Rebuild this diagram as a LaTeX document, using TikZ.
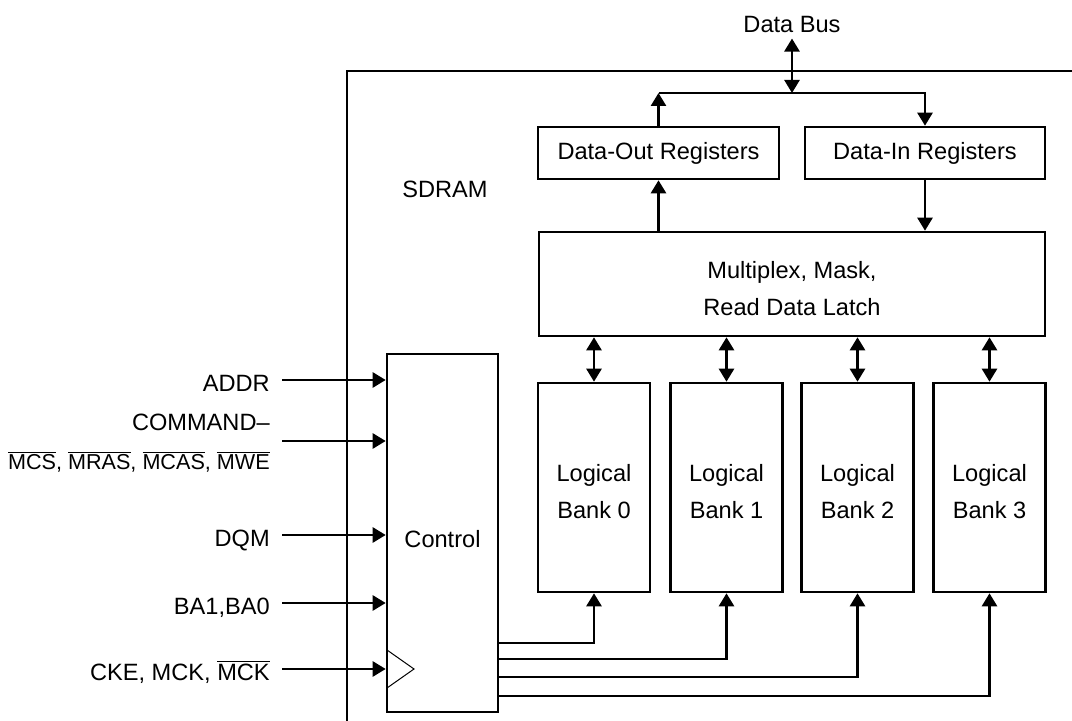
\documentclass[tikz,border=0pt]{standalone}
\usepackage{fontspec}
\setmainfont{Liberation Sans}
\usetikzlibrary{arrows.meta,calc}
\newcommand\ovl[1]{$\overline{\mbox{#1}}$}
\begin{document}
\begin{tikzpicture}[x=0.5pt,y=-0.5pt,
  line width=1.3pt,
  font=\fontsize{11.8}{18.5}\selectfont,
  box/.style={draw, rectangle, inner sep=0pt, align=center},
  txt/.style={label={[align=center, yshift=#1]center:}},
  bankbox/.style={box, minimum width=56pt, minimum height=104.5pt},
  lbl/.style={inner sep=0pt, anchor=base east},
  >={Triangle[length=6.5pt,width=7.5pt]}
]
\useasboundingbox (0,0) rectangle (1072,721);

% outer SDRAM boundary
\draw (1080,71) -- (347,71) -- (347,730);
\node[inner sep=0pt] (sdram) at (445,189) {SDRAM};

% boxes
\node[box, minimum width=120.5pt, minimum height=26pt] (dout) at (658.5,153) {Data-Out Registers};
\node[box, minimum width=120pt, minimum height=26pt] (din) at (925,153) {Data-In Registers};
\node[box, minimum width=253pt, minimum height=52pt,
  label={[align=center, yshift=-2.2pt]center:Multiplex, Mask,\\Read Data Latch}] (mux) at (792,284) {};
\foreach \i/\x in {0/594,1/726.5,2/857.5,3/989.5}
  \node[bankbox, label={[align=center, yshift=-2pt]center:Logical\\Bank \i}] (bank\i) at (\x,487.5) {};
\node[box, minimum width=55.5pt, minimum height=179pt,
  label={[yshift=-3pt]center:Control}] (ctrl) at (442.5,533) {};

% data bus
\node[inner sep=0pt] (db) at (792,25) {Data Bus};
\coordinate (bus) at (792,93);
\draw[<->] ([yshift=-2pt]db.south) -- (bus);
\draw[->] (dout.north) -- (dout.north |- bus);
\draw[->] (dout.north |- bus) -- (din.north |- bus) -- (din.north);
\draw[->] (dout.south |- mux.north) -- (dout.south);
\draw[->] (din.south) -- (din.south |- mux.north);

% mux <-> banks
\foreach \b in {bank0,bank1,bank2,bank3}
  \draw[<->] (\b.north |- mux.south) -- (\b.north);

% input labels
\node[lbl] (addr) at (271,392) {ADDR};
\node[lbl] (cmd1) at (271,431) {COMMAND--};
\node[lbl, font=\fontsize{10.8}{13}\selectfont] (cmd2) at (271,470) {\ovl{MCS}, \ovl{MRAS}, \ovl{MCAS}, \ovl{MWE}};
\node[lbl] (dqm) at (271,547) {DQM};
\node[lbl] (ba) at (271,615) {BA1,BA0};
\node[lbl] (cke) at (271,681) {CKE, MCK, \ovl{MCK}};

\coordinate (iaddr) at (282,380);
\coordinate (icmd) at (282,441);
\coordinate (idqm) at (282,535);
\coordinate (iba) at (282,603);
\coordinate (icke) at (282,669);
\foreach \c in {iaddr,icmd,idqm,iba,icke}
  \draw[->] (\c) -- (\c -| ctrl.west);

% clock triangle
\draw[line width=0.5pt] (387,650) -- (414,669) -- (387,688);

% control -> banks
\coordinate (o0) at (498,643);
\coordinate (o1) at (498,659);
\coordinate (o2) at (498,677);
\coordinate (o3) at (498,696);
\draw[->] (o0) -| (bank0.south);
\draw[->] (o1) -| (bank1.south);
\draw[->] (o2) -| (bank2.south);
\draw[->] (o3) -| (bank3.south);
\end{tikzpicture}
\end{document}
